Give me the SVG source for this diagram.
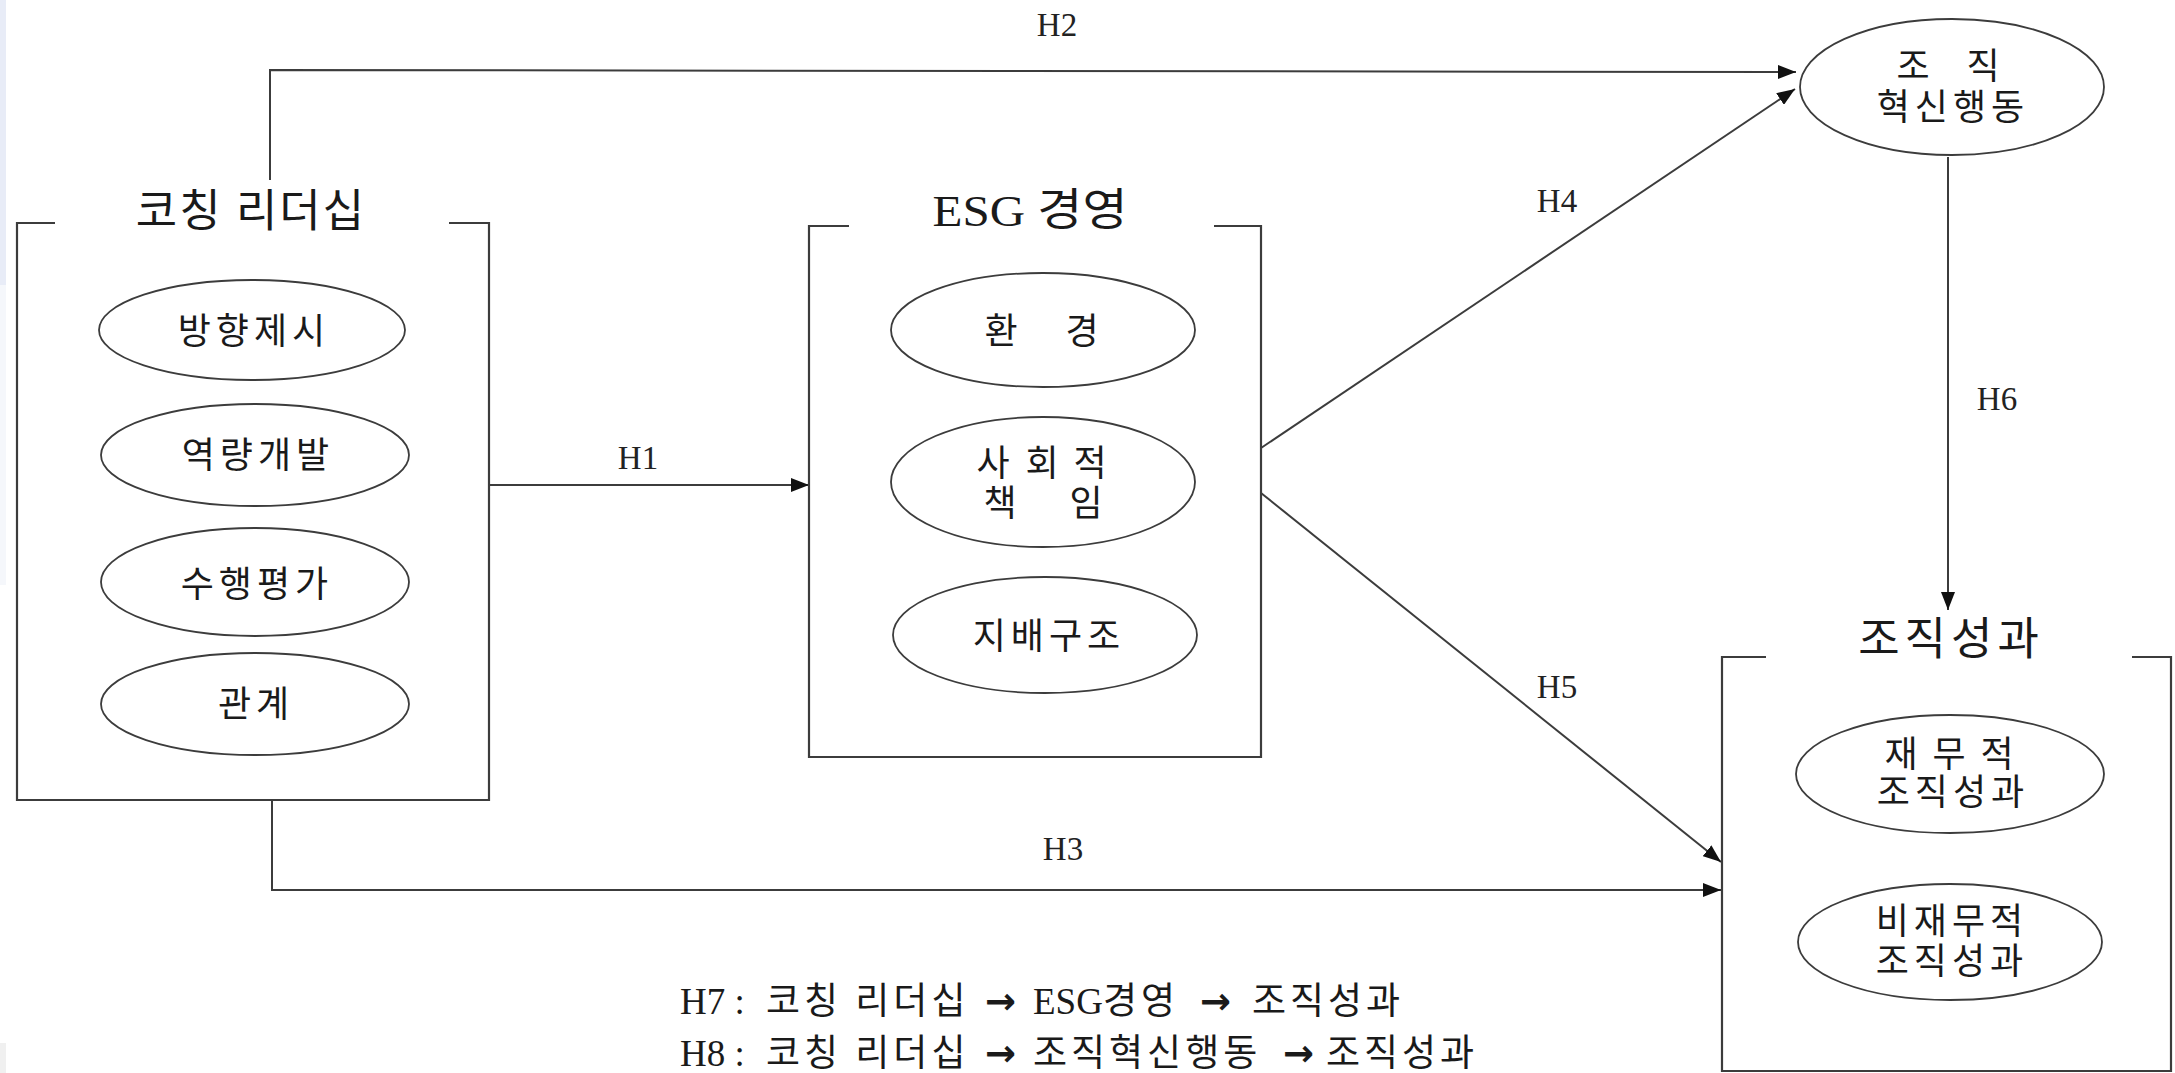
<svg xmlns="http://www.w3.org/2000/svg" width="2175" height="1073" viewBox="0 0 2175 1073">
  <defs>
    <marker id="arr" markerUnits="userSpaceOnUse" markerWidth="18" markerHeight="14" refX="18" refY="7" orient="auto">
      <path d="M0,0 L18,7 L0,14 z" fill="#111"/>
    </marker>
    <style>
      .box { fill: none; stroke: #3c3c3c; stroke-width: 2.2; }
      .ell { fill: #fff; stroke: #3c3c3c; stroke-width: 1.8; }
      .con { fill: none; stroke: #3c3c3c; stroke-width: 2; marker-end: url(#arr); }
      .title { font-family: "Liberation Serif", "Noto Sans CJK KR", serif; font-size: 45px; fill: #1a1a1a; text-anchor: middle; }
      .lab { font-family: "Noto Sans CJK KR", sans-serif; font-size: 36px; fill: #1a1a1a; text-anchor: middle; }
      .sp { letter-spacing: 5px; }
      .h { font-family: "Liberation Serif", "Noto Sans CJK KR", serif; font-size: 33px; fill: #222; text-anchor: middle; }
      .note { font-family: "Liberation Serif", "Noto Sans CJK KR", serif; font-size: 37px; fill: #1a1a1a; }
      .k { letter-spacing: 4px; }
      .ar { font-family: "DejaVu Sans", sans-serif; font-weight: bold; }
    </style>
  </defs>
  <rect width="2175" height="1073" fill="#fff"/>
  <rect x="0" y="0" width="6" height="285" fill="#e8ecf7"/>
  <rect x="0" y="285" width="6" height="300" fill="#f5f7fb"/>
  <rect x="0" y="1043" width="6" height="30" fill="#f0f0f0"/>

  <g id="connectors">
    <polyline id="H1" class="con" points="489,485 809,485"/>
    <polyline id="H2" class="con" points="270,180 270,70 1796,72"/>
    <polyline id="H3" class="con" points="272,800 272,890 1721,890"/>
    <polyline id="H4" class="con" points="1261,448 1795,89"/>
    <polyline id="H5" class="con" points="1261,493 1721,862"/>
    <polyline id="H6" class="con" points="1948,157 1948,610"/>
    <text class="h" x="638" y="469">H1</text>
    <text class="h" x="1057" y="36">H2</text>
    <text class="h" x="1063" y="860">H3</text>
    <text class="h" x="1557" y="212">H4</text>
    <text class="h" x="1557" y="698">H5</text>
    <text class="h" x="1997" y="410">H6</text>
  </g>

  <g id="coaching">
    <path class="box" d="M55,223 H17 V800 H489 V223 H449"/>
    <text class="title" x="251" y="227" style="letter-spacing:2px">코칭 리더십</text>
    <g id="c1"><ellipse class="ell" cx="252" cy="330" rx="153" ry="50"/><text class="lab sp" x="254" y="344">방향제시</text></g>
    <g id="c2"><ellipse class="ell" cx="255" cy="455" rx="154" ry="51"/><text class="lab sp" x="258" y="468">역량개발</text></g>
    <g id="c3"><ellipse class="ell" cx="255" cy="582" rx="154" ry="54"/><text class="lab sp" x="257" y="597">수행평가</text></g>
    <g id="c4"><ellipse class="ell" cx="255" cy="704" rx="154" ry="51"/><text class="lab sp" x="256" y="717">관계</text></g>
  </g>

  <g id="esg">
    <path class="box" d="M849,226 H809 V757 H1261 V226 H1214"/>
    <text class="title" x="1030" y="226" textLength="195" lengthAdjust="spacingAndGlyphs">ESG 경영</text>
    <g id="e1"><ellipse class="ell" cx="1043" cy="330" rx="152" ry="57"/><text class="lab" x="1001 1082" y="344">환경</text></g>
    <g id="e2"><ellipse class="ell" cx="1043" cy="482" rx="152" ry="65"/><text class="lab"><tspan x="993 1042 1090" y="476">사회적</tspan><tspan x="1000 1086" y="516">책임</tspan></text></g>
    <g id="e3"><ellipse class="ell" cx="1045" cy="635" rx="152" ry="58"/><text class="lab sp" x="1049" y="649">지배구조</text></g>
  </g>

  <g id="innovation">
    <ellipse class="ell" cx="1952" cy="87" rx="152" ry="68"/>
    <text class="lab"><tspan x="1913 1983" y="79">조직</tspan><tspan class="sp" x="1953" y="120">혁신행동</tspan></text>
  </g>

  <g id="performance">
    <path class="box" d="M1766,657 H1722 V1071 H2171 V657 H2132"/>
    <text class="title" x="1951" y="655" style="letter-spacing:5px">조직성과</text>
    <g id="p1"><ellipse class="ell" cx="1950" cy="774" rx="154" ry="59"/><text class="lab"><tspan x="1901 1949 1997" y="767">재무적</tspan><tspan class="sp" x="1953" y="805">조직성과</tspan></text></g>
    <g id="p2"><ellipse class="ell" cx="1950" cy="942" rx="152" ry="58"/><text class="lab sp"><tspan x="1952" y="934">비재무적</tspan><tspan x="1952" y="974">조직성과</tspan></text></g>
  </g>

  <g id="notes">
    <text class="note" y="1014"><tspan x="680">H7 :</tspan><tspan class="k" x="766">코칭 리더십</tspan><tspan class="ar" x="985">→</tspan><tspan x="1033">ESG</tspan><tspan class="k">경영</tspan><tspan class="ar" x="1200">→</tspan><tspan class="k" x="1252">조직성과</tspan></text>
    <text class="note" y="1066"><tspan x="680">H8 :</tspan><tspan class="k" x="766">코칭 리더십</tspan><tspan class="ar" x="985">→</tspan><tspan class="k" x="1033">조직혁신행동</tspan><tspan class="ar" x="1283">→</tspan><tspan class="k" x="1326">조직성과</tspan></text>
  </g>
</svg>
